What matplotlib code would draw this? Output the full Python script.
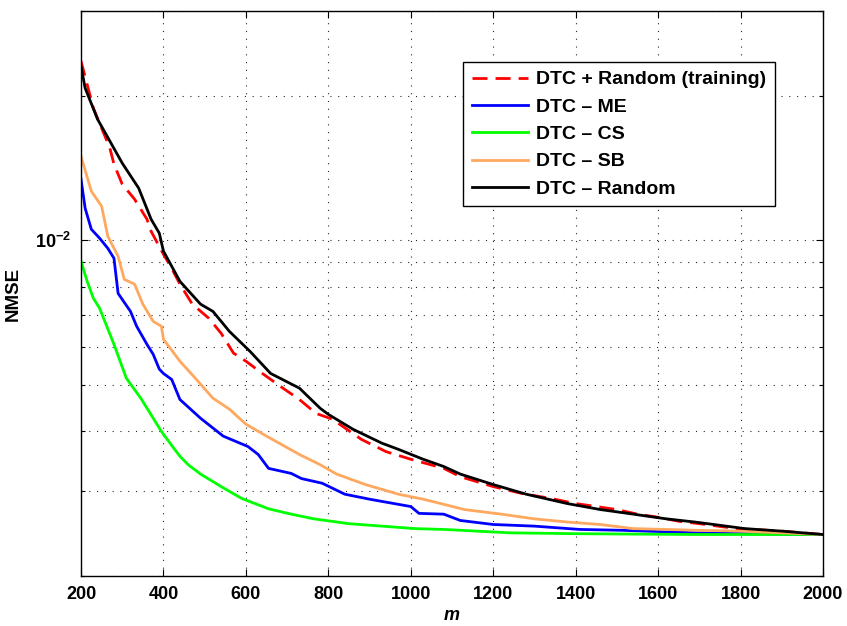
import matplotlib
matplotlib.use('Agg')
import matplotlib.pyplot as plt
from matplotlib.ticker import FixedLocator, FixedFormatter, NullFormatter, LogLocator

plt.rcParams['font.family'] = ['Liberation Sans', 'DejaVu Sans']
plt.rcParams['font.weight'] = 'bold'
plt.rcParams['mathtext.fontset'] = 'custom'
plt.rcParams['mathtext.rm'] = 'Liberation Sans:bold'
plt.rcParams['mathtext.bf'] = 'Liberation Sans:bold'

# DTC + Random (training)
m_train = [200, 230, 270, 280, 300, 330, 360, 370, 400, 420, 440, 470, 510, 540, 570, 600, 640, 690, 730, 770,
           810, 880, 940, 1000, 1080, 1120, 1200, 1270, 1340, 1400, 1450, 1500, 1550, 1600, 1650, 1700, 1790, 1900, 2000]
nmse_train = [0.02360, 0.01884, 0.01555, 0.01440, 0.01308, 0.01217, 0.01106, 0.01044, 0.00935, 0.00874,
              0.00810, 0.00736, 0.00688, 0.00640, 0.00582, 0.00560, 0.00528, 0.00492, 0.00466, 0.00436,
              0.00424, 0.00385, 0.00363, 0.00350, 0.00335, 0.00322, 0.00307, 0.00297, 0.00290, 0.00283,
              0.00279, 0.00275, 0.00269, 0.00265, 0.00260, 0.00257, 0.00251, 0.00248, 0.00244]

# DTC - ME
m_me = [200, 210, 225, 245, 265, 280, 290, 320, 335, 360, 375, 390, 400, 420, 440, 490, 545, 605, 630, 655,
        710, 735, 785, 840, 900, 1000, 1020, 1080, 1120, 1200, 1300, 1410, 1510, 1570, 1690, 1800, 2000]
nmse_me = [0.01340, 0.01166, 0.01054, 0.01010, 0.00962, 0.00917, 0.00775, 0.00711, 0.00662, 0.00607,
           0.00579, 0.00539, 0.00528, 0.00513, 0.00466, 0.00426, 0.00391, 0.00372, 0.00358, 0.00335,
           0.00327, 0.00319, 0.00312, 0.00296, 0.00289, 0.00279, 0.00270, 0.00269, 0.00261, 0.00256,
           0.00254, 0.00250, 0.00249, 0.00248, 0.00246, 0.00245, 0.00244]

# DTC - CS
m_cs = [200, 215, 230, 245, 280, 310, 345, 395, 425, 440, 460, 490, 540, 590, 655, 710, 765, 850, 930, 1010,
        1080, 1120, 1240, 1390, 1690, 2000]
nmse_cs = [0.00904, 0.00821, 0.00757, 0.00722, 0.00607, 0.00516, 0.00469, 0.00400, 0.00369, 0.00355,
           0.00341, 0.00326, 0.00307, 0.00290, 0.00276, 0.00269, 0.00263, 0.00257, 0.00254, 0.00251,
           0.00250, 0.00249, 0.00246, 0.00245, 0.00244, 0.00244]

# DTC - SB
m_sb = [200, 225, 250, 265, 290, 305, 330, 350, 375, 395, 400, 440, 480, 520, 560, 600, 650, 730, 780, 820,
        890, 970, 1030, 1080, 1130, 1220, 1300, 1380, 1460, 1540, 1620, 1690, 1800, 1900, 2000]
nmse_sb = [0.01496, 0.01265, 0.01177, 0.01019, 0.00926, 0.00829, 0.00810, 0.00736, 0.00678, 0.00662,
           0.00622, 0.00560, 0.00513, 0.00469, 0.00445, 0.00414, 0.00391, 0.00358, 0.00341, 0.00326,
           0.00310, 0.00296, 0.00289, 0.00282, 0.00275, 0.00269, 0.00263, 0.00259, 0.00256, 0.00251,
           0.00250, 0.00249, 0.00248, 0.00246, 0.00244]

# DTC - Random
m_rand = [200, 210, 240, 270, 300, 340, 370, 390, 400, 440, 490, 520, 560, 610, 660, 730, 780, 800, 860, 930,
          970, 1030, 1080, 1120, 1200, 1280, 1380, 1460, 1540, 1620, 1690, 1750, 1810, 1900, 2000]
nmse_rand = [0.02304, 0.02074, 0.01787, 0.01608, 0.01447, 0.01283, 0.01106, 0.01034, 0.00949, 0.00821,
             0.00736, 0.00711, 0.00646, 0.00587, 0.00528, 0.00492, 0.00447, 0.00434, 0.00404, 0.00378,
             0.00367, 0.00350, 0.00338, 0.00326, 0.00310, 0.00296, 0.00283, 0.00275, 0.00269, 0.00263,
             0.00259, 0.00255, 0.00251, 0.00248, 0.00244]

x_ticks = [200, 400, 600, 800, 1000, 1200, 1400, 1600, 1800, 2000]

fig = plt.figure(figsize=(8.47, 6.26), dpi=100)
ax = fig.add_axes([81/847, 50/626, 742/847, 565/626])

lw = 2.0
ax.plot(m_train, nmse_train, color='#ff0000', lw=lw, linestyle=(0, (5.4, 2.9)), label='DTC + Random (training)')
ax.plot(m_me, nmse_me, color='#0000ff', lw=lw, label='DTC \u2013 ME')
ax.plot(m_cs, nmse_cs, color='#00ff00', lw=lw, label='DTC \u2013 CS')
ax.plot(m_sb, nmse_sb, color='#ffa860', lw=lw, label='DTC \u2013 SB')
ax.plot(m_rand, nmse_rand, color='black', lw=lw, label='DTC \u2013 Random')

ax.set_yscale('log')
ax.set_xlim(200, 2000)
ax.set_ylim(2e-3, 3e-2)
ax.set_xticks(x_ticks)
ax.set_xticklabels([str(t) for t in x_ticks])
ax.yaxis.set_major_locator(FixedLocator([1e-2]))
ax.yaxis.set_major_formatter(FixedFormatter([r'$\mathbf{10^{-2}}$']))
ax.yaxis.set_minor_locator(LogLocator(base=10, subs=range(2, 10), numticks=20))
ax.yaxis.set_minor_formatter(NullFormatter())

ax.tick_params(which='both', direction='in', top=True, right=True, labelsize=13, width=0.8)
ax.tick_params(which='major', length=5, pad=7)
ax.tick_params(which='minor', length=3)
for lab in ax.get_xticklabels() + ax.get_yticklabels():
    lab.set_fontweight('bold')

ax.grid(True, which='major', axis='both', linestyle=(0, (1, 6)), color='0.15', linewidth=0.8)
ax.grid(True, which='minor', axis='y', linestyle=(0, (1, 6)), color='0.15', linewidth=0.8)
for s in ax.spines.values():
    s.set_linewidth(1.0)

ax.set_xlabel('m', fontsize=13, fontweight='bold', fontstyle='italic', labelpad=3)
ax.set_ylabel('NMSE', fontsize=13.5, fontweight='bold', labelpad=10)

leg = ax.legend(loc='upper right', bbox_to_anchor=(775/847, 1 - 62/626), bbox_transform=fig.transFigure,
                borderaxespad=0, prop={'weight': 'bold', 'size': 14}, handlelength=2.9,
                labelspacing=0.5, handletextpad=0.4, borderpad=0.45, fancybox=False, framealpha=1,
                edgecolor='black')
leg.get_frame().set_linewidth(1.0)

fig.savefig('out.png', dpi=100, facecolor='white')
